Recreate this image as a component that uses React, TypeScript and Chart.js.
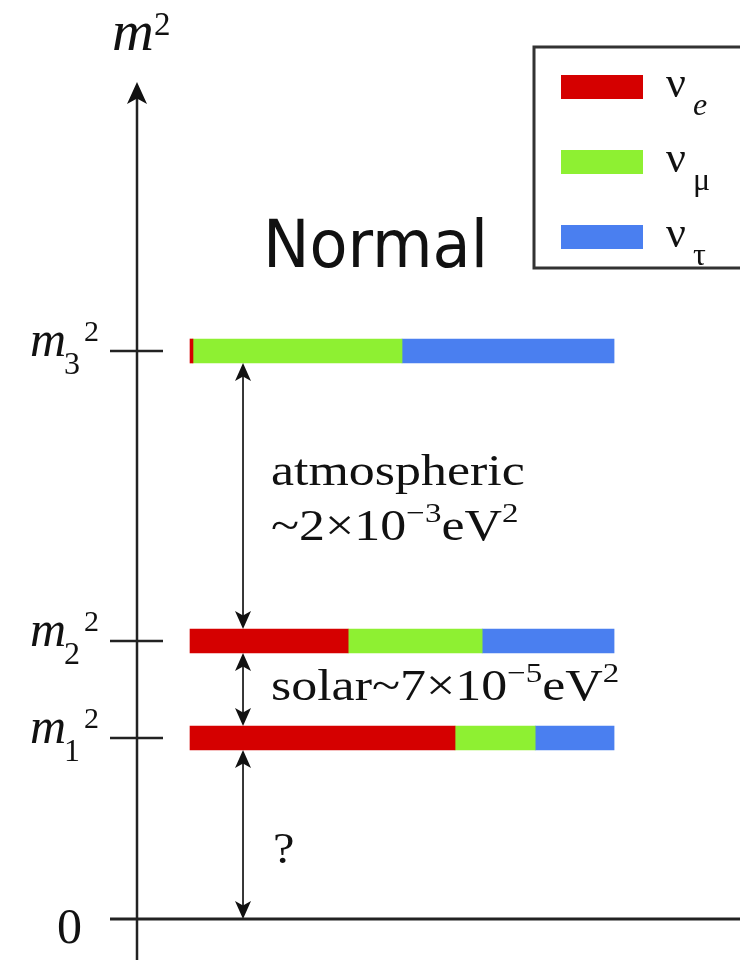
import React, { useEffect, useRef } from 'react';
import { Chart, registerables } from 'chart.js';

Chart.register(...registerables);

// ---- data ----
const LEVEL_SUBS = ['1', '2', '3'];            // m_i^2 labels
const LEVELS = [1.81, 2.78, 5.68];             // m_i^2 positions (schematic units, 0 = baseline)
const FLAVOR_SUBS = ['e', 'μ', 'τ'];
const NU_E = [0.625, 0.373, 0.007];            // flavour content of m1, m2, m3
const NU_MU = [0.189, 0.316, 0.493];
const NU_TAU = [0.186, 0.311, 0.5];
const COLORS = ['#d50000', '#8ef032', '#4a7ff0'];
const Y_MAX = 8.37;
const X_MIN = -0.125;
const X_MAX = 1.297;
const ARROW_X = 0.125;
const TEXT_X = 0.191;

const SERIF = '"Liberation Serif", "Times New Roman", serif';

type Part = { t: string; size: number; dy?: number; italic?: boolean; family?: string };

function drawRich(ctx: CanvasRenderingContext2D, x: number, baseline: number, parts: Part[], sx = 1) {
  ctx.save();
  ctx.translate(x, baseline);
  ctx.scale(sx, 1);
  ctx.textBaseline = 'alphabetic';
  ctx.textAlign = 'left';
  let cx = 0;
  for (const p of parts) {
    ctx.font = `${p.italic ? 'italic ' : ''}${p.size}px ${p.family || SERIF}`;
    ctx.fillText(p.t, cx, p.dy || 0);
    cx += ctx.measureText(p.t).width;
  }
  ctx.restore();
}

function head(ctx: CanvasRenderingContext2D, x: number, tipY: number, dir: number, len: number, hw: number) {
  ctx.beginPath();
  ctx.moveTo(x, tipY);
  ctx.lineTo(x - hw, tipY + dir * len);
  ctx.lineTo(x, tipY + dir * len * 0.75);
  ctx.lineTo(x + hw, tipY + dir * len);
  ctx.closePath();
  ctx.fill();
}

const overlay = {
  id: 'overlay',
  afterDatasetsDraw(chart: any) {
    const { ctx, chartArea, scales } = chart;
    const { left, top } = chartArea;
    const xs = scales.x;
    const ys = scales.y;
    const W = chart.width;
    const H = chart.height;
    const half = 12;
    ctx.save();
    ctx.fillStyle = '#111';
    ctx.strokeStyle = '#222';

    // vertical axis with arrow
    ctx.lineWidth = 2.5;
    ctx.beginPath();
    ctx.moveTo(left, top + 15);
    ctx.lineTo(left, H);
    ctx.stroke();
    head(ctx, left, top, 1, 22, 10);

    // zero line
    const y0 = ys.getPixelForValue(0);
    ctx.lineWidth = 3;
    ctx.beginPath();
    ctx.moveTo(left - 27, y0);
    ctx.lineTo(W, y0);
    ctx.stroke();

    // level ticks and labels
    ctx.lineWidth = 2.5;
    LEVELS.forEach((v, i) => {
      const py = ys.getPixelForValue(v);
      ctx.beginPath();
      ctx.moveTo(left - 27, py);
      ctx.lineTo(left + 26, py);
      ctx.stroke();
      ctx.save();
      ctx.translate(left - 107, py);
      ctx.font = `italic 50px ${SERIF}`;
      ctx.fillText('m', 0, 5);
      const mw = ctx.measureText('m').width;
      ctx.font = `32px ${SERIF}`;
      ctx.fillText(LEVEL_SUBS[i], mw - 2, 23);
      const sw = ctx.measureText(LEVEL_SUBS[i]).width;
      ctx.font = `30px ${SERIF}`;
      ctx.fillText('2', mw + sw + 2, -10);
      ctx.restore();
    });

    // axis title m^2
    drawRich(ctx, left - 25, top - 32, [
      { t: 'm', size: 58, italic: true },
      { t: '2', size: 33, dy: -15 },
    ]);

    // zero label
    ctx.font = `50px ${SERIF}`;
    ctx.fillText('0', left - 80, y0 + 24);

    // double arrows between levels
    const ax = xs.getPixelForValue(ARROW_X);
    const spans: [number, number][] = [
      [ys.getPixelForValue(LEVELS[2]) + half, ys.getPixelForValue(LEVELS[1]) - half],
      [ys.getPixelForValue(LEVELS[1]) + half, ys.getPixelForValue(LEVELS[0]) - half],
      [ys.getPixelForValue(LEVELS[0]) + half, y0],
    ];
    ctx.lineWidth = 1.8;
    for (const [a, b] of spans) {
      ctx.beginPath();
      ctx.moveTo(ax, a + 10);
      ctx.lineTo(ax, b - 10);
      ctx.stroke();
      head(ctx, ax, a, 1, 18, 8);
      head(ctx, ax, b, -1, 18, 8);
    }

    // annotations
    const tx = xs.getPixelForValue(TEXT_X);
    const sx = 1.18;
    drawRich(ctx, tx, ys.getPixelForValue(4.34), [{ t: 'atmospheric', size: 44 }], sx);
    drawRich(ctx, tx, ys.getPixelForValue(3.79), [
      { t: '~2×10', size: 44 },
      { t: '−3', size: 28, dy: -18 },
      { t: 'eV', size: 44 },
      { t: '2', size: 28, dy: -18 },
    ], sx);
    drawRich(ctx, tx, ys.getPixelForValue(2.19), [
      { t: 'solar~7×10', size: 44 },
      { t: '−5', size: 28, dy: -18 },
      { t: 'eV', size: 44 },
      { t: '2', size: 28, dy: -18 },
    ], sx);
    drawRich(ctx, tx + 2, ys.getPixelForValue(0.56), [{ t: '?', size: 44 }], 1.1);

    // "Normal"
    ctx.font = `66px "DejaVu Sans", sans-serif`;
    const nw = ctx.measureText('Normal').width;
    drawRich(ctx, 263, 267, [{ t: 'Normal', size: 66, family: '"DejaVu Sans", sans-serif' }], 225 / nw);

    // legend box
    ctx.lineWidth = 3;
    ctx.strokeStyle = '#333';
    ctx.strokeRect(534, 47, 240, 221);
    chart.data.datasets.forEach((ds: any, i: number) => {
      const ty = 75 + i * 75;
      ctx.fillStyle = ds.backgroundColor;
      ctx.fillRect(561, ty, 82, 24);
      ctx.fillStyle = '#111';
      drawRich(ctx, 666, ty + 22, [{ t: 'ν', size: 44 }]);
      drawRich(ctx, 693, ty + 40, [{ t: FLAVOR_SUBS[i], size: 32, italic: FLAVOR_SUBS[i] === 'e' }]);
    });

    ctx.restore();
  },
};

export default function App() {
  const ref = useRef<HTMLCanvasElement | null>(null);
  useEffect(() => {
    if (!ref.current) return;
    const mk = (vals: number[]) => vals.map((v, i) => ({ x: v, y: LEVELS[i] }));
    const chart = new Chart(ref.current, {
      type: 'bar',
      data: {
        datasets: [
          { label: 'νe', data: mk(NU_E), backgroundColor: COLORS[0] },
          { label: 'νμ', data: mk(NU_MU), backgroundColor: COLORS[1] },
          { label: 'ντ', data: mk(NU_TAU), backgroundColor: COLORS[2] },
        ] as any,
      },
      options: {
        indexAxis: 'y',
        responsive: false,
        animation: false,
        devicePixelRatio: 1,
        layout: { padding: { left: 137, right: 0, top: 82, bottom: 41 } },
        datasets: { bar: { barThickness: 24, borderWidth: 0 } } as any,
        plugins: { legend: { display: false }, tooltip: { enabled: false } },
        scales: {
          x: { type: 'linear', display: false, min: X_MIN, max: X_MAX, stacked: true },
          y: { type: 'linear', display: false, min: 0, max: Y_MAX, stacked: true, offset: false },
        },
      } as any,
      plugins: [overlay],
    });
    return () => chart.destroy();
  }, []);
  return (
    <div style={{ position: 'absolute', left: 0, top: 0, width: 740, height: 960, background: '#fff' }}>
      <canvas ref={ref} width={740} height={960} style={{ display: 'block' }} />
    </div>
  );
}
